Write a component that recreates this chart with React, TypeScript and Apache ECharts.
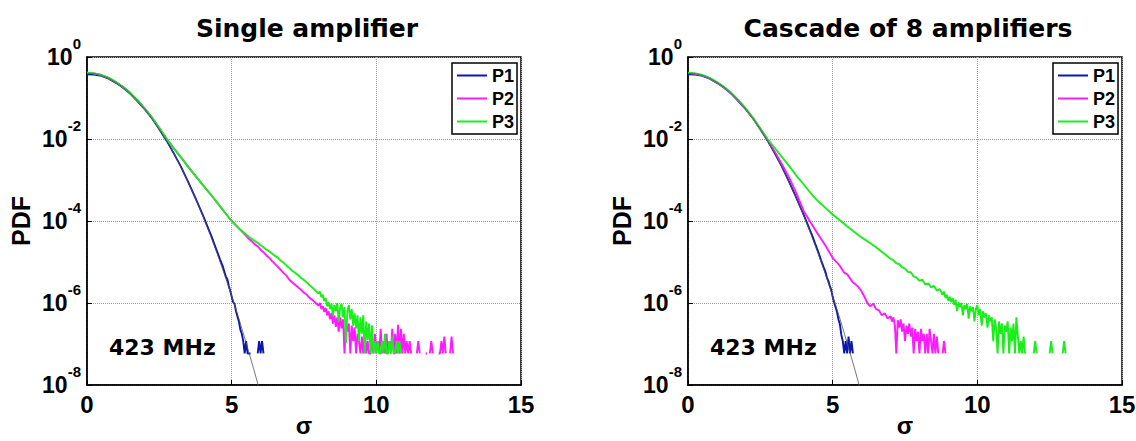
import React, { useEffect, useRef } from "react";
import * as echarts from "echarts";

// ---- data: [sigma, log10(PDF)] ; null = empty bin (no point) ----
const gaussRef: [number, number][] = [
  [0, -0.40], [0.25, -0.41], [0.5, -0.45], [0.75, -0.52], [1, -0.62], [1.25, -0.74], [1.5, -0.89],
  [1.75, -1.07], [2, -1.27], [2.25, -1.50], [2.5, -1.76], [2.75, -2.04], [3, -2.35], [3.25, -2.69],
  [3.5, -3.06], [3.75, -3.45], [4, -3.87], [4.25, -4.32], [4.5, -4.80], [4.75, -5.30], [5, -5.83],
  [5.25, -6.38], [5.5, -6.97], [5.75, -7.58], [6, -8.22],
];

const p1Head: [number, number][] = [
  [0, -0.42], [0.25, -0.43], [0.5, -0.46], [0.75, -0.53], [1, -0.63], [1.25, -0.75], [1.5, -0.9],
  [1.75, -1.08], [2, -1.28], [2.25, -1.5], [2.5, -1.76], [2.75, -2.04], [3, -2.35], [3.25, -2.68],
  [3.5, -3.05], [3.75, -3.44], [4, -3.85], [4.1, -4.02], [4.2, -4.2], [4.3, -4.37], [4.4, -4.56], [4.5, -4.75],
];

const singleP1Tail: [number, number | null][] = [
  [4.6, -4.94], [4.7, -5.12], [4.8, -5.36], [4.85, -5.42], [4.9, -5.58], [4.95, -5.7], [5, -5.84],
  [5.05, -5.98], [5.1, -6.02], [5.15, -6.2], [5.2, -6.33], [5.25, -6.45], [5.3, -6.65], [5.35, -6.75],
  [5.4, -6.93], [5.45, -7.23], [5.5, -6.93], [5.55, -7.23], [5.6, -7.23], [5.65, -7.23], [5.7, null],
  [5.75, null], [5.8, null], [5.85, null], [5.9, -7.23], [5.95, -6.93], [6, -7.23], [6.05, -6.93], [6.1, -7.23],
];

const singleP23Head: [number, number][] = [
  [0, -0.38], [0.25, -0.40], [0.5, -0.44], [0.75, -0.51], [1, -0.61], [1.25, -0.73], [1.5, -0.88],
  [1.75, -1.06], [2, -1.26], [2.25, -1.48], [2.5, -1.73], [2.75, -1.99], [3, -2.23], [3.25, -2.45],
  [3.5, -2.68], [3.75, -2.9], [4, -3.12], [4.25, -3.33], [4.5, -3.55], [4.75, -3.78], [5, -4.0], [5.25, -4.18],
];

const singleP2Tail: [number, number | null][] = [
  [5.5, -4.36], [5.6, -4.44], [5.7, -4.5], [5.8, -4.57], [5.9, -4.62], [6, -4.7], [6.1, -4.76], [6.2, -4.84],
  [6.3, -4.9], [6.4, -4.98], [6.5, -5.05], [6.6, -5.12], [6.7, -5.2], [6.8, -5.27], [6.9, -5.34], [7, -5.44],
  [7.1, -5.5], [7.2, -5.56], [7.3, -5.62], [7.4, -5.68], [7.5, -5.75], [7.6, -5.8], [7.7, -5.88], [7.8, -5.93],
  [7.9, -6.0], [8, -6.06], [8.05, -6.0], [8.1, -6.15], [8.15, -6.08], [8.2, -6.22], [8.25, -6.12], [8.3, -6.3],
  [8.35, -6.2], [8.4, -6.4], [8.45, -6.25], [8.5, -6.5], [8.55, -6.3], [8.6, -6.58], [8.65, -6.35], [8.7, -6.7],
  [8.75, -6.35], [8.8, -6.62], [8.85, -6.4], [8.9, -7.23], [8.95, -6.45], [9, -6.7], [9.05, -6.5], [9.1, -7.23],
  [9.15, -6.55], [9.2, -6.93], [9.25, -6.6], [9.3, -7.23], [9.35, -6.75], [9.4, -6.93], [9.45, -7.23], [9.5, -6.82],
  [9.55, -7.23], [9.6, -6.75], [9.65, -7.23], [9.7, -6.93], [9.75, -7.23], [9.8, -7.23], [9.85, -6.93], [9.9, -7.23],
  [9.95, -6.75], [10, -7.23], [10.05, -6.93], [10.1, -7.23], [10.15, -6.63], [10.2, -7.23], [10.25, -6.93],
  [10.3, -7.23], [10.35, -6.75], [10.4, -7.23], [10.45, -6.93], [10.5, -7.23], [10.55, -6.63], [10.6, -7.23],
  [10.65, -6.75], [10.7, -7.23], [10.75, -6.53], [10.8, -7.23], [10.85, -6.63], [10.9, -7.23], [10.95, -6.75],
  [11, -7.23], [11.05, -6.93], [11.1, -7.23], [11.15, -6.93], [11.2, -7.23], [11.25, null], [11.3, null],
  [11.35, null], [11.4, -7.23], [11.45, -6.93], [11.5, -7.23], [11.55, null], [11.6, null], [11.65, null],
  [11.7, -7.23], [11.75, -7.23], [11.8, null], [11.85, -7.23], [11.9, -6.93], [11.95, -7.23], [12, null],
  [12.05, null], [12.1, null], [12.15, -7.23], [12.2, -7.23], [12.25, -6.93], [12.3, -7.23], [12.35, -6.82],
  [12.4, -7.23], [12.45, null], [12.5, null], [12.55, -7.23], [12.6, -6.82], [12.65, -7.23],
];

const singleP3Tail: [number, number | null][] = [
  [5.5, -4.33], [5.6, -4.39], [5.7, -4.44], [5.8, -4.49], [5.9, -4.53], [6, -4.59], [6.1, -4.64], [6.2, -4.7],
  [6.3, -4.74], [6.4, -4.8], [6.5, -4.85], [6.6, -4.9], [6.7, -4.97], [6.8, -5.02], [6.9, -5.09], [7, -5.15],
  [7.1, -5.22], [7.2, -5.27], [7.3, -5.32], [7.4, -5.39], [7.5, -5.44], [7.6, -5.5], [7.7, -5.57], [7.8, -5.63],
  [7.9, -5.7], [8, -5.77], [8.05, -5.72], [8.1, -5.86], [8.15, -5.8], [8.2, -5.95], [8.25, -5.88], [8.3, -6.08],
  [8.35, -5.98], [8.4, -6.15], [8.45, -6.02], [8.5, -6.3], [8.55, -6.05], [8.6, -6.2], [8.65, -6.0], [8.7, -6.45],
  [8.75, -6.1], [8.8, -6.02], [8.85, -6.35], [8.9, -6.1], [8.95, -6.98], [9, -6.2], [9.05, -6.05], [9.1, -6.4],
  [9.15, -6.15], [9.2, -6.55], [9.25, -6.25], [9.3, -6.62], [9.35, -6.3], [9.4, -6.93], [9.45, -6.35], [9.5, -6.75],
  [9.55, -6.3], [9.6, -7.23], [9.65, -6.45], [9.7, -6.9], [9.75, -6.5], [9.8, -7.23], [9.85, -6.55], [9.9, -7.23],
  [9.95, -6.93], [10, -7.23], [10.05, -6.93], [10.1, -7.23], [10.15, -7.23], [10.2, -6.93], [10.25, -7.23],
  [10.3, -6.75], [10.35, -7.23], [10.4, -7.23], [10.45, -6.93], [10.5, -7.23], [10.55, -6.82], [10.6, -7.23],
  [10.65, -7.23], [10.7, -6.93], [10.75, -7.23], [10.8, -6.93], [10.85, -7.23],
];

const cascadeP1Tail: [number, number | null][] = [
  [4.6, -4.96], [4.7, -5.15], [4.75, -5.24], [4.8, -5.38], [4.85, -5.46], [4.9, -5.58], [4.95, -5.68], [5, -5.85],
  [5.05, -5.98], [5.1, -6.1], [5.15, -6.22], [5.2, -6.4], [5.25, -6.52], [5.3, -6.78], [5.35, -6.93], [5.4, -7.23],
  [5.45, -6.93], [5.5, -7.23], [5.55, -6.82], [5.6, -7.23], [5.65, -6.93], [5.7, -7.23],
];

const cascadeP2: [number, number | null][] = [
  [0, -0.39], [0.25, -0.41], [0.5, -0.45], [0.75, -0.52], [1, -0.62], [1.25, -0.74], [1.5, -0.89], [1.75, -1.07],
  [2, -1.27], [2.25, -1.49], [2.5, -1.75], [2.75, -2.02], [3, -2.31], [3.25, -2.62], [3.5, -2.95], [3.75, -3.33],
  [4, -3.76], [4.25, -4.05], [4.5, -4.33], [4.75, -4.6], [5, -4.9], [5.1, -4.98], [5.2, -5.05], [5.3, -5.15],
  [5.4, -5.26], [5.5, -5.3], [5.6, -5.4], [5.7, -5.5], [5.8, -5.55], [5.9, -5.62], [6, -5.72], [6.1, -5.85],
  [6.2, -6.0], [6.3, -6.08], [6.4, -6.02], [6.5, -6.15], [6.6, -6.18], [6.7, -6.3], [6.8, -6.25], [6.9, -6.38],
  [7, -6.32], [7.05, -6.45], [7.1, -6.35], [7.15, -6.55], [7.2, -7.23], [7.25, -6.42], [7.3, -6.6], [7.35, -6.4],
  [7.4, -6.7], [7.45, -6.5], [7.5, -6.93], [7.55, -6.55], [7.6, -6.75], [7.65, -6.5], [7.7, -6.82], [7.75, -6.6],
  [7.8, -7.23], [7.85, -6.63], [7.9, -6.93], [7.95, -6.7], [8, -7.23], [8.05, -6.63], [8.1, -6.93], [8.15, -6.75],
  [8.2, -7.23], [8.25, -6.75], [8.3, -7.23], [8.35, -6.63], [8.4, -6.93], [8.45, -7.23], [8.5, -6.75], [8.55, -7.23],
  [8.6, -6.82], [8.65, -7.23], [8.7, null], [8.75, null], [8.8, -7.23], [8.85, -6.93], [8.9, -7.23],
];

const cascadeP3: [number, number | null][] = [
  [0, -0.38], [0.25, -0.40], [0.5, -0.44], [0.75, -0.51], [1, -0.61], [1.25, -0.73], [1.5, -0.88], [1.75, -1.06],
  [2, -1.26], [2.25, -1.49], [2.5, -1.75], [2.75, -2.0], [3, -2.22], [3.25, -2.44], [3.5, -2.66], [3.75, -2.9],
  [4, -3.11], [4.25, -3.33], [4.5, -3.52], [4.75, -3.68], [5, -3.84], [5.25, -3.98], [5.5, -4.13], [5.75, -4.27],
  [6, -4.4], [6.25, -4.52], [6.5, -4.64], [6.75, -4.78], [7, -4.92], [7.1, -4.96], [7.2, -5.03], [7.3, -5.05],
  [7.4, -5.13], [7.5, -5.16], [7.6, -5.24], [7.7, -5.25], [7.8, -5.35], [7.9, -5.38], [8, -5.46], [8.1, -5.43],
  [8.2, -5.55], [8.3, -5.52], [8.4, -5.62], [8.5, -5.58], [8.6, -5.7], [8.7, -5.66], [8.8, -5.8], [8.85, -5.72],
  [8.9, -5.88], [8.95, -5.8], [9, -5.95], [9.05, -5.85], [9.1, -5.98], [9.15, -5.88], [9.2, -6.05], [9.25, -5.92],
  [9.3, -6.2], [9.35, -5.98], [9.4, -6.1], [9.45, -6.0], [9.5, -6.3], [9.55, -6.05], [9.6, -6.15], [9.65, -6.02],
  [9.7, -6.38], [9.75, -6.08], [9.8, -6.2], [9.85, -6.1], [9.9, -6.45], [9.95, -6.15], [10, -6.05], [10.05, -6.3],
  [10.1, -6.15], [10.15, -6.55], [10.2, -6.2], [10.25, -6.35], [10.3, -6.25], [10.35, -6.6], [10.4, -6.3],
  [10.45, -6.45], [10.5, -6.35], [10.55, -6.93], [10.6, -6.4], [10.65, -6.6], [10.7, -7.23], [10.75, -6.45],
  [10.8, -6.75], [10.85, -6.5], [10.9, -7.23], [10.95, -6.55], [11, -6.7], [11.05, -6.45], [11.1, -7.23],
  [11.15, -6.6], [11.2, -6.93], [11.25, -6.5], [11.3, -7.23], [11.35, -6.35], [11.4, -6.8], [11.45, -7.23],
  [11.5, -6.93], [11.55, -7.23], [11.6, -6.82], [11.65, -7.23], [11.7, null], [11.75, null], [11.8, null],
  [11.85, null], [11.9, null], [11.95, -7.23], [12, -6.93], [12.05, -7.23], [12.1, null], [12.15, null],
  [12.2, null], [12.25, null], [12.3, null], [12.35, null], [12.4, null], [12.45, null], [12.5, -7.23],
  [12.55, -6.93], [12.6, -7.23], [12.65, null], [12.7, null], [12.75, null], [12.8, null], [12.85, null],
  [12.9, null], [12.95, -7.23], [13, -6.93], [13.05, -7.23],
];

const seriesNames = ["P1", "P2", "P3"];
const seriesColors = ["#0a16b0", "#ff1aff", "#1aee1a"];
const panelTitles = ["Single amplifier", "Cascade of 8 amplifiers"];
const annotation = "423 MHz";
const xTicks = { min: 0, max: 15, step: 5 };
const yDecades = { minExp: -8, maxExp: 0, step: 2 };

const AX_FONT = '"Liberation Sans", Arial, Helvetica, sans-serif';
const TITLE_FONT = '"DejaVu Sans", sans-serif';

const toPts = (arr: [number, number | null][]) =>
  arr.map(([x, l]) => [x, l === null ? "-" : Math.pow(10, l)]);

export default function App() {
  const ref = useRef<HTMLDivElement>(null);
  useEffect(() => {
    if (!ref.current) return;
    const chart = echarts.init(ref.current, null, { renderer: "svg" });

    const grids = [
      { left: 87, top: 57, width: 434, height: 328 },
      { left: 688, top: 57, width: 434, height: 328 },
    ];

    const panelData = [
      [toPts([...p1Head, ...singleP1Tail]), toPts([...singleP23Head, ...singleP2Tail]), toPts([...singleP23Head, ...singleP3Tail])],
      [toPts([...p1Head, ...cascadeP1Tail]), toPts(cascadeP2), toPts(cascadeP3)],
    ];

    const xAxes = grids.map((_, i) => ({
      type: "value",
      gridIndex: i,
      min: xTicks.min,
      max: xTicks.max,
      interval: xTicks.step,
      axisLine: { show: true, lineStyle: { color: "#000", width: 1.5 } },
      axisTick: { show: true, inside: true, length: 5, lineStyle: { color: "#000" } },
      splitLine: { show: true, lineStyle: { color: "#999", type: "dotted", width: 1 } },
      axisLabel: {
        color: "#000",
        fontSize: 24,
        fontWeight: "bold",
        fontFamily: AX_FONT,
        margin: 7,
        showMinLabel: true,
        showMaxLabel: true,
      },
      name: "σ",
      nameLocation: "middle",
      nameGap: 28,
      nameMoveOverlap: false,
      nameTextStyle: { color: "#000", fontSize: 24, lineHeight: 24, fontWeight: "bold", fontFamily: AX_FONT },
    }));

    const yAxes = grids.map((_, i) => ({
      type: "log",
      logBase: 10,
      gridIndex: i,
      min: Math.pow(10, yDecades.minExp),
      max: Math.pow(10, yDecades.maxExp),
      interval: yDecades.step,
      axisLine: { show: true, lineStyle: { color: "#000", width: 1.5 } },
      axisTick: { show: true, inside: true, length: 5, lineStyle: { color: "#000" } },
      minorTick: { show: false },
      splitLine: { show: true, lineStyle: { color: "#999", type: "dotted", width: 1 } },
      axisLabel: {
        margin: 6,
        showMinLabel: true,
        showMaxLabel: true,
        formatter: (v: number) => `{a|10}{b|${Math.round(Math.log10(v))}}`,
        rich: {
          a: { fontSize: 23, fontWeight: "bold", fontFamily: AX_FONT, color: "#000", lineHeight: 42, verticalAlign: "middle" },
          b: { fontSize: 15, fontWeight: "bold", fontFamily: AX_FONT, color: "#000", lineHeight: 15, verticalAlign: "top" },
        },
      },
      name: "PDF",
      nameLocation: "middle",
      nameGap: 54,
      nameMoveOverlap: false,
      nameRotate: 90,
      nameTextStyle: { color: "#000", fontSize: 25, fontWeight: "bold", fontFamily: AX_FONT },
    }));

    const series: any[] = [];
    grids.forEach((_, gi) => {
      seriesNames.forEach((name, si) => {
        series.push({
          type: "line",
          name,
          xAxisIndex: gi,
          yAxisIndex: gi,
          data: panelData[gi][si],
          symbol: "none",
          showSymbol: false,
          connectNulls: false,
          clip: true,
          lineStyle: { color: seriesColors[si], width: 1.9 },
          itemStyle: { color: seriesColors[si] },
          z: 2 + si,
        });
      });
      series.push({
        type: "line",
        name: "gauss",
        xAxisIndex: gi,
        yAxisIndex: gi,
        data: toPts(gaussRef),
        symbol: "none",
        showSymbol: false,
        clip: true,
        lineStyle: { color: "#555", width: 0.8 },
        z: 6,
      });
    });

    const legends = [452, 1053].map((left) => ({
      left,
      top: 63,
      orient: "vertical",
      data: seriesNames,
      icon: "rect",
      itemWidth: 30,
      itemHeight: 2,
      itemGap: 4,
      padding: [3, 3, 3, 5],
      borderColor: "#000",
      borderWidth: 1.5,
      borderRadius: 0,
      backgroundColor: "#fff",
      selectedMode: false,
      textStyle: { fontSize: 18, fontWeight: "bold", fontFamily: AX_FONT, color: "#000", lineHeight: 19 },
    }));

    const graphic = [
      ...panelTitles.map((t, i) => ({
        type: "text",
        x: [307, 908][i],
        y: 28,
        style: { text: t, fontSize: 25, fontWeight: "bold", fontFamily: TITLE_FONT, fill: "#000", align: "center", verticalAlign: "middle" },
      })),
      ...[109, 710].map((x) => ({
        type: "text",
        x,
        y: 347,
        style: { text: annotation, fontSize: 22, fontWeight: "bold", fontFamily: TITLE_FONT, fill: "#000", align: "left", verticalAlign: "middle" },
        z: 10,
      })),
    ];

    chart.setOption({
      animation: false,
      backgroundColor: "#fff",
      grid: grids.map((g) => ({
        ...g,
        show: true,
        containLabel: false,
        outerBoundsMode: "none",
        borderColor: "#000",
        borderWidth: 1.5,
        backgroundColor: "#fff",
      })),
      xAxis: xAxes,
      yAxis: yAxes,
      legend: legends,
      series,
      graphic,
    } as any);

    return () => chart.dispose();
  }, []);

  return <div ref={ref} style={{ position: "fixed", left: 0, top: 0, width: 1136, height: 441, background: "#fff" }} />;
}
